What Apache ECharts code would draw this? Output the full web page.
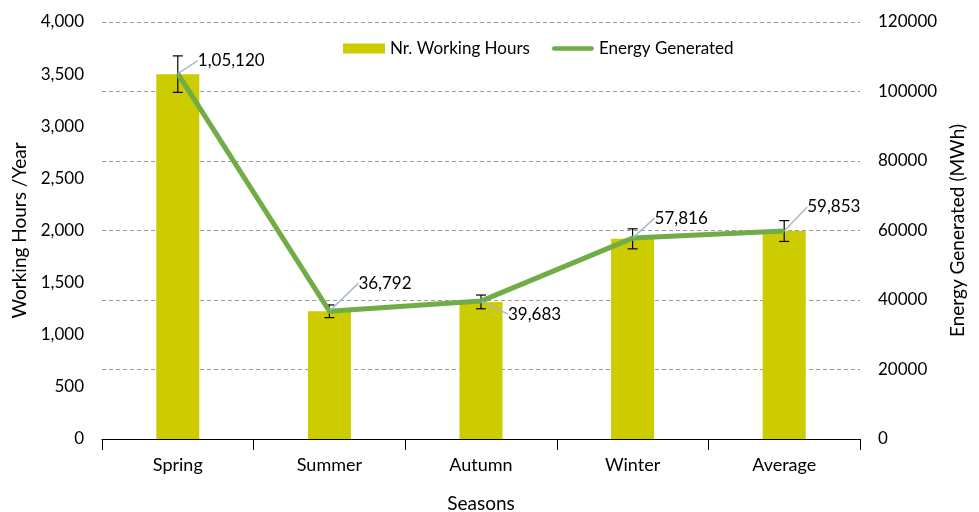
<!DOCTYPE html>
<html>
<head>
<meta charset="utf-8">
<script src="https://cdn.jsdelivr.net/npm/echarts@6/dist/echarts.min.js"></script>
<style>html,body{margin:0;padding:0;background:#fff;}#c{width:979px;height:512px;}</style>
</head>
<body>
<div id="c"></div>
<script>
const categories = ['Spring', 'Summer', 'Autumn', 'Winter', 'Average'];
const workingHours = [3500, 1225, 1315, 1920, 1995];
const workingHoursError = [175, 61, 66, 96, 100];
const energyGenerated = [105120, 36792, 39683, 57816, 59853];

function fmtIN(v) {
  const s = String(Math.round(v));
  if (s.length <= 3) return s;
  const last3 = s.slice(-3);
  const rest = s.slice(0, -3).replace(/\B(?=(\d{2})+(?!\d))/g, ',');
  return rest + ',' + last3;
}

const labelOffsets = [[14, -13], [23, -28], [21, 13], [16, -20], [17, -24]];
const FONT = 'Lato';

const chart = echarts.init(document.getElementById('c'));
chart.setOption({
  animation: false,
  textStyle: { fontFamily: FONT },
  grid: { left: 102, right: 119, top: 22, bottom: 73, outerBoundsMode: 'none', containLabel: false },
  legend: {
    top: 35,
    left: 338,
    itemWidth: 42,
    itemHeight: 10,
    itemGap: 22,
    textStyle: { fontSize: 17, color: '#000', fontFamily: FONT },
    data: [
      { name: 'Nr. Working Hours', icon: 'rect' },
      { name: 'Energy Generated', icon: 'path://M2.5,0 L44.5,0 A2.5,2.5 0 0 1 44.5,5 L2.5,5 A2.5,2.5 0 0 1 2.5,0 Z' }
    ]
  },
  xAxis: {
    type: 'category',
    data: categories,
    name: 'Seasons',
    nameLocation: 'middle',
    nameGap: 55,
    nameTextStyle: { fontSize: 19, color: '#000', fontFamily: FONT },
    axisLine: { lineStyle: { color: '#000', width: 1 } },
    axisTick: { show: true, length: 11, lineStyle: { color: '#000' } },
    axisLabel: { fontSize: 18, color: '#000', margin: 17 }
  },
  yAxis: [
    {
      type: 'value',
      min: 0, max: 4000, interval: 500,
      name: 'Working Hours /Year',
      nameLocation: 'middle',
      nameGap: 72,
      nameTextStyle: { fontSize: 19, color: '#000', fontFamily: FONT },
      axisLine: { show: false },
      axisTick: { show: false },
      splitLine: { show: false },
      axisLabel: { fontSize: 17, color: '#000', margin: 18, formatter: v => fmtIN(v) }
    },
    {
      type: 'value',
      min: 0, max: 120000, interval: 20000,
      name: 'Energy Generated (MWh)',
      nameLocation: 'middle',
      nameGap: 88,
      nameTextStyle: { fontSize: 19, color: '#000', fontFamily: FONT },
      axisLine: { show: false },
      axisTick: { show: false },
      splitLine: { show: true, lineStyle: { color: '#9a9a9a', type: [4, 3], width: 1 } },
      axisLabel: { fontSize: 17, color: '#000', margin: 18, formatter: v => String(v) }
    }
  ],
  series: [
    {
      name: 'Nr. Working Hours',
      type: 'bar',
      yAxisIndex: 0,
      data: workingHours,
      barWidth: 43,
      itemStyle: { color: '#cccc00' },
      z: 2
    },
    {
      name: 'errors',
      type: 'custom',
      yAxisIndex: 0,
      z: 3,
      data: categories.map((c, i) => [i, workingHours[i], workingHoursError[i]]),
      renderItem: function (params, api) {
        const x = api.value(0), v = api.value(1), e = api.value(2);
        const top = api.coord([x, v + e]);
        const bot = api.coord([x, v - e]);
        const hw = 5;
        const st = { stroke: '#000', lineWidth: 1.2 };
        return {
          type: 'group',
          children: [
            { type: 'line', shape: { x1: top[0], y1: top[1], x2: bot[0], y2: bot[1] }, style: st },
            { type: 'line', shape: { x1: top[0] - hw, y1: top[1], x2: top[0] + hw, y2: top[1] }, style: st },
            { type: 'line', shape: { x1: bot[0] - hw, y1: bot[1], x2: bot[0] + hw, y2: bot[1] }, style: st }
          ]
        };
      }
    },
    {
      name: 'Energy Generated',
      type: 'line',
      yAxisIndex: 1,
      data: energyGenerated,
      symbol: 'circle',
      symbolSize: 2,
      itemStyle: { color: '#70ad47' },
      lineStyle: { color: '#70ad47', width: 5 },
      z: 4,
      label: {
        show: true,
        position: 'right',
        distance: 5,
        fontSize: 17,
        color: '#000',
        formatter: p => fmtIN(p.value)
      },
      labelLine: { show: true, lineStyle: { color: '#a9b8cc', width: 1.5 } },
      labelLayout: function (params) {
        const o = labelOffsets[params.dataIndex];
        return { dx: o[0], dy: o[1] };
      }
    }
  ]
});
</script>
</body>
</html>
